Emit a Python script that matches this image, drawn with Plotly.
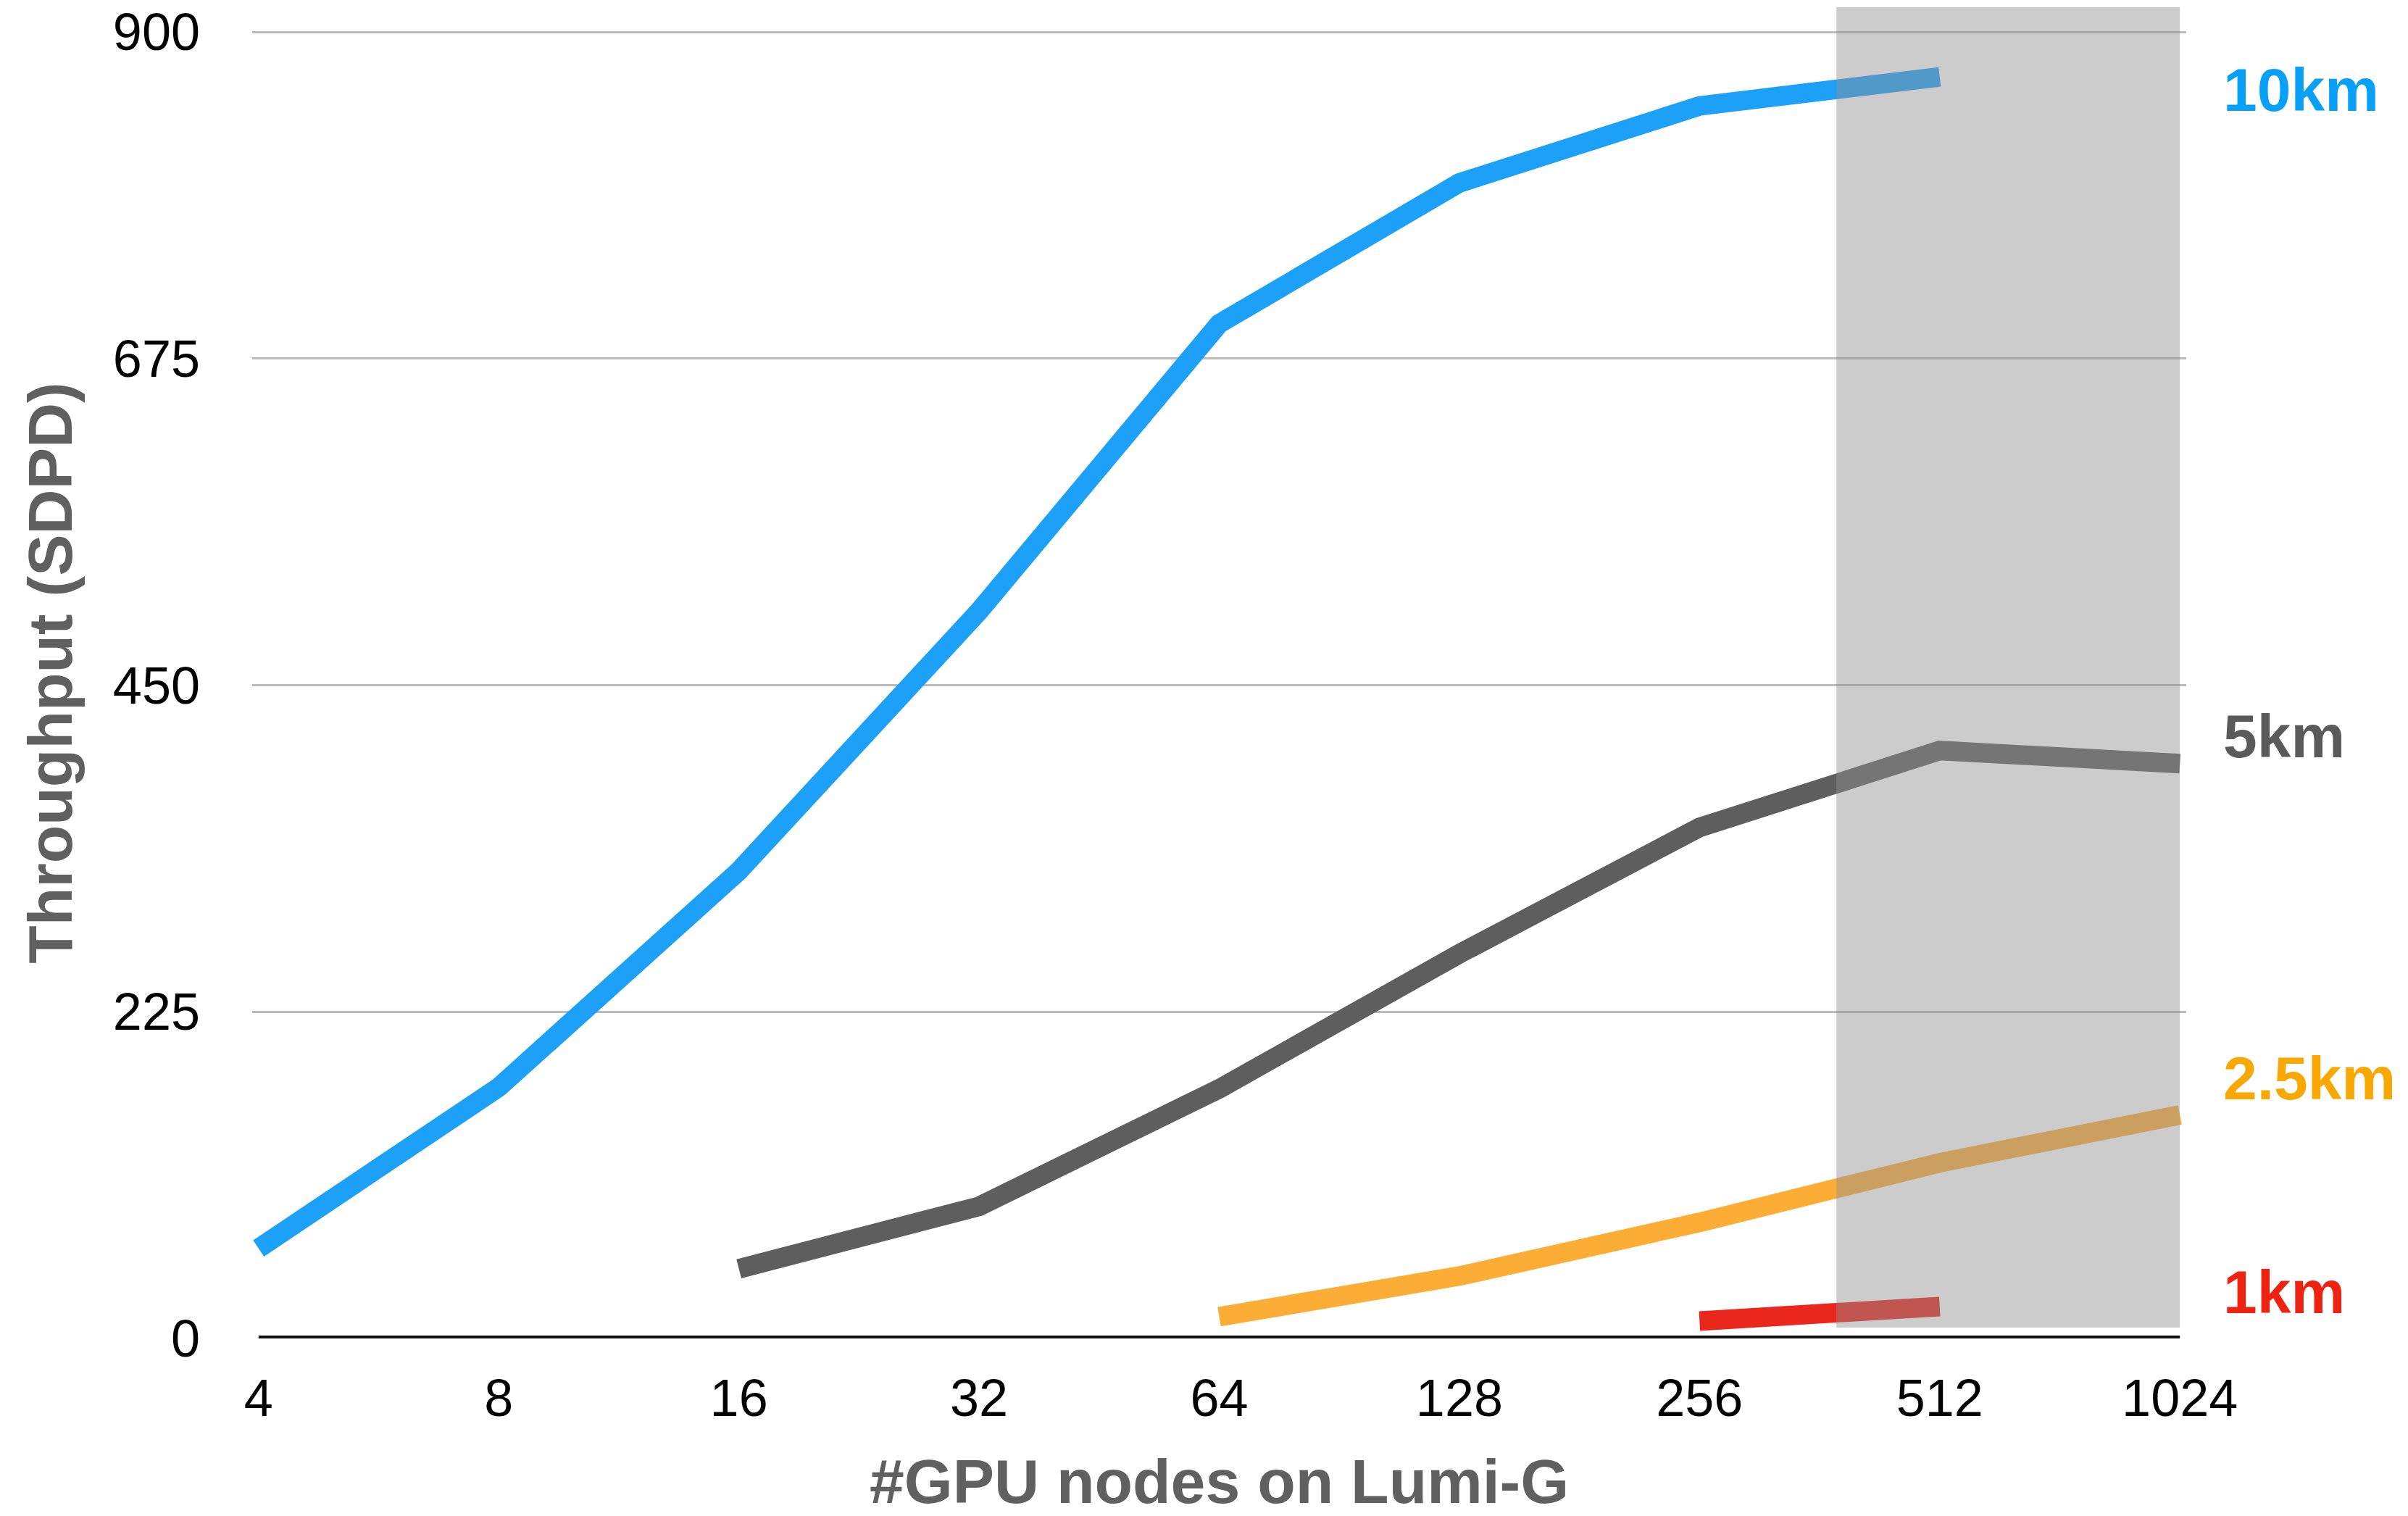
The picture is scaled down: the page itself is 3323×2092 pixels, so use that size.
import math
import plotly.graph_objects as go

# ---- data ----
node_ticks = [4, 8, 16, 32, 64, 128, 256, 512, 1024]
y_ticks = [0, 225, 450, 675, 900]

x_10km = [4, 8, 16, 32, 64, 128, 256, 512]
y_10km = [62, 173, 322, 501, 699, 796, 849, 869]

x_5km = [16, 32, 64, 128, 256, 512, 1024]
y_5km = [48, 91, 172, 265, 352, 405, 396]

x_2_5km = [64, 128, 256, 512, 1024]
y_2_5km = [15, 43, 80, 121, 154]

x_1km = [256, 512]
y_1km = [12, 22]

shade_x = [380, 1024]
shade_y = [7.5, 917]

series = [
    ("10km", x_10km, y_10km, "#1DA1F8", "#09A0F7", 860),
    ("5km", x_5km, y_5km, "#5E5E5E", "#5A5A5A", 415),
    ("2.5km", x_2_5km, y_2_5km, "#FCAD36", "#F8A800", 179),
    ("1km", x_1km, y_1km, "#EA261D", "#EE2211", 32),
]

FONT = "Liberation Sans, Arial, Helvetica, sans-serif"

fig = go.Figure()
for name, xs, ys, col, lab_col, lab_y in series:
    fig.add_trace(go.Scatter(x=xs, y=ys, mode="lines", name=name,
                             line=dict(color=col, width=27),
                             hoverinfo="skip", showlegend=False))
    fig.add_annotation(x=1.0184, xref="paper", y=lab_y, yref="y",
                       text="<b>%s</b>" % name, showarrow=False,
                       xanchor="left", yanchor="middle",
                       font=dict(family=FONT, size=84, color=lab_col))

pad = 0.008
fig.update_xaxes(type="log", automargin=False,
                 range=[math.log10(node_ticks[0]) - pad, math.log10(node_ticks[-1]) + pad],
                 tickvals=node_ticks, ticktext=[str(v) for v in node_ticks],
                 showgrid=False, zeroline=False, showline=False, ticks="",
                 ticklabelstandoff=34, ticklabeloverflow="allow",
                 tickfont=dict(family=FONT, size=72, color="#000000"),
                 title=dict(text="<b>#GPU nodes on Lumi-G</b>", standoff=64,
                            font=dict(family=FONT, size=86, color="#606060")))
fig.update_yaxes(range=[0, shade_y[1]], automargin=False,
                 tickvals=y_ticks, ticktext=[str(v) for v in y_ticks],
                 showgrid=True, gridcolor="#BBBBBB", gridwidth=3,
                 zeroline=False, showline=False, ticks="",
                 ticklabelstandoff=71, ticklabeloverflow="allow",
                 tickfont=dict(family=FONT, size=72, color="#000000"),
                 title=dict(text="<b>Throughput (SDPD)</b>", standoff=27,
                            font=dict(family=FONT, size=86, color="#606060")))

# zero axis line
fig.add_shape(type="line", xref="x", yref="y", x0=node_ticks[0], x1=node_ticks[-1],
              y0=0, y1=0, line=dict(color="#111111", width=8), layer="above")
# shaded region
fig.add_shape(type="rect", xref="x", yref="y", x0=shade_x[0], x1=shade_x[1],
              y0=shade_y[0], y1=shade_y[1], fillcolor="rgba(144,144,144,0.46)",
              line=dict(width=0), layer="above")

fig.update_layout(width=3323, height=2092,
                  margin=dict(l=348, r=306, t=10, b=245),
                  plot_bgcolor="white", paper_bgcolor="white",
                  hovermode=False)

fig.write_html("out.html", config={"displayModeBar": False},
               post_script="document.body.style.margin='0';")
